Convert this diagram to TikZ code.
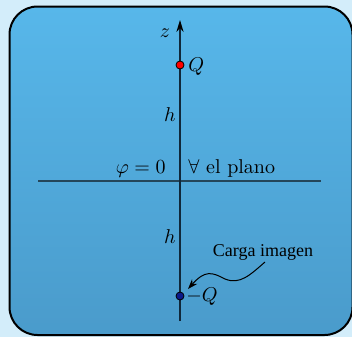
\documentclass[tikz,border=0pt]{standalone}
\usepackage{fontspec}
\newfontfamily\timesf{Liberation Serif}
\usetikzlibrary{arrows.meta}
\definecolor{outerbg}{HTML}{D3EDFA}
\definecolor{topblue}{HTML}{57B7EA}
\definecolor{botblue}{HTML}{4A9BCB}
\definecolor{axiscol}{HTML}{10283A}
\definecolor{planecol}{HTML}{24465A}
\definecolor{chargeneg}{HTML}{0B1A8A}
\tikzset{
  lbl/.style={inner sep=0pt, font=\normalsize},
  chargedot/.style={circle, draw=black, line width=0.4pt, minimum size=4pt, inner sep=0pt},
}
\begin{document}
\begin{tikzpicture}[x=0.5pt,y=-0.5pt]
\useasboundingbox (0,0) rectangle (352,337);
\fill[outerbg] (0,0) rectangle (352,337);
\shade[top color=topblue, bottom color=botblue, rounded corners=14pt, draw=black, line width=1pt]
  (9.5,6.5) rectangle (352.5,335);
% plane
\coordinate (pl) at (38,181);
\coordinate (pr) at (321,181);
\draw[planecol, line width=0.8pt] (pl) -- (pr);
% axis
\coordinate (ab) at (180,321);
\coordinate (at) at (180,20);
\draw[axiscol, line width=0.55pt, -{Stealth[length=6pt,width=3.6pt,color=black]}] (ab) -- (at);
% charges
\node[chargedot, fill=red] (q) at (180,65) {};
\node[chargedot, fill=chargeneg] (mq) at (180,296) {};
% labels
\node[lbl] (z) at (165,33) {$z$};
\node[lbl, anchor=west] (Ql) at (188,67) {$Q$};
\node[lbl] (h1) at (170,115) {$h$};
\node[lbl] (h2) at (170,237) {$h$};
\node[lbl, anchor=base east] (phi) at (166,173) {$\varphi=0$};
\node[lbl, anchor=base west] (plano) at (188,173) {$\forall$ el plano};
\node[lbl, anchor=west] (mQl) at (186,297) {$-Q$};
\node[inner sep=0pt, font=\timesf\small] (ci) at (263,252) {Carga imagen};
\coordinate (cs) at (265,262);
\coordinate (ce) at (188,289);
\draw[black, line width=0.5pt, -{Stealth[length=5pt,width=3.5pt]}]
  (cs) .. controls (250,275) and (240,285) .. (225,279)
       .. controls (212,272) and (205,270) .. (ce);
\end{tikzpicture}
\end{document}
